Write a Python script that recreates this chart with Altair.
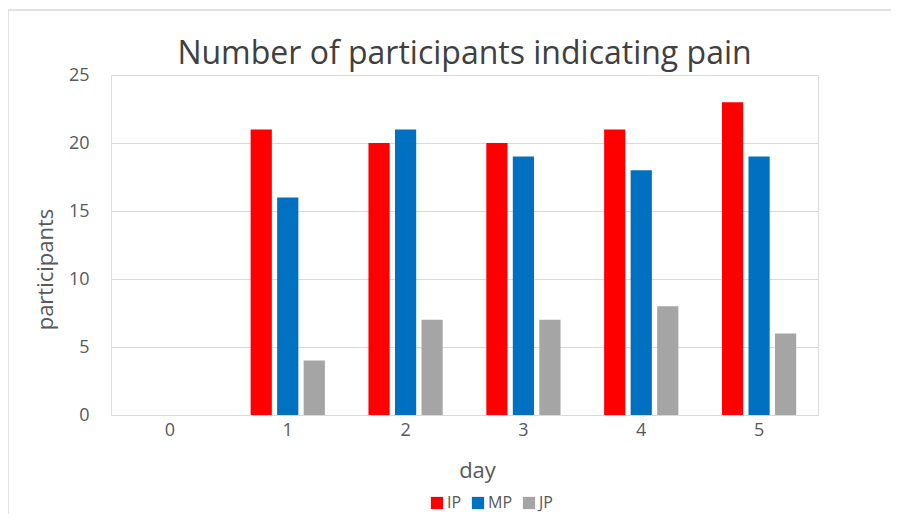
import altair as alt
import pandas as pd

days = ["0", "1", "2", "3", "4", "5"]
series = ["IP", "MP", "JP"]
ip = [0, 21, 20, 20, 21, 23]
mp = [0, 16, 21, 19, 18, 19]
jp = [0, 4, 7, 7, 8, 6]
colors = ["#FF0000", "#0070C0", "#A5A5A5"]

rows = []
for i, d in enumerate(days):
    for s, vals in zip(series, [ip, mp, jp]):
        rows.append({"day": d, "series": s, "participants": vals[i]})
df = pd.DataFrame(rows)

FONT = "Open Sans"
TXT = "#595959"
W, H = 707, 340

bars = alt.Chart(df).mark_bar().encode(
    x=alt.X("day:N", sort=days,
            scale=alt.Scale(paddingInner=0.37, paddingOuter=0.185),
            axis=alt.Axis(title="day", labelAngle=0, labelFontSize=18, labelColor=TXT,
                          labelFont=FONT, labelPadding=6, ticks=False, domainColor="#D9D9D9",
                          titleFont=FONT, titleFontSize=22, titleFontWeight="normal",
                          titleColor=TXT, titleX=366, titleY=45, titleAlign="center")),
    xOffset=alt.XOffset("series:N", sort=series,
                        scale=alt.Scale(paddingInner=0.2, paddingOuter=0)),
    y=alt.Y("participants:Q", scale=alt.Scale(domain=[0, 25]),
            axis=alt.Axis(title="participants", values=[0, 5, 10, 15, 20, 25], ticks=False,
                          domain=False, gridColor="#D9D9D9", labelFontSize=18,
                          labelColor=TXT, labelFont=FONT, labelPadding=22,
                          titleFont=FONT, titleFontSize=22, titleFontWeight="normal",
                          titleColor=TXT, titleX=-66, titleY=194, titleAngle=270,
                          titleAlign="center", titleBaseline="middle")),
    color=alt.Color("series:N", sort=series,
                    scale=alt.Scale(domain=series, range=colors),
                    legend=alt.Legend(title=None, orient="none", direction="horizontal",
                                      legendX=318, legendY=420, symbolType="square",
                                      symbolSize=150, symbolStrokeWidth=0,
                                      labelFont=FONT, labelFontSize=16, labelColor=TXT,
                                      columnPadding=8, labelOffset=2)),
)

one = pd.DataFrame({"a": [0]})
top_line = alt.Chart(one).mark_rule(color="#D9D9D9", strokeWidth=1.5).encode(
    x=alt.value(-103), x2=alt.value(W + 300), y=alt.value(-65)
)
left_line = alt.Chart(one).mark_rule(color="#D9D9D9", strokeWidth=1.5).encode(
    x=alt.value(-103), y=alt.value(-65), y2=alt.value(H + 200)
)

chart = alt.layer(top_line, left_line, bars).properties(
    width=W, height=H,
    title=alt.Title("Number of participants indicating pain", font=FONT, fontSize=32,
                    fontWeight="normal", color="#404040", offset=-62, anchor="middle",
                    frame="group"),
    padding={"left": 103, "top": 67, "right": 73, "bottom": 99},
    autosize=alt.AutoSizeParams(type="none"),
).configure_view(stroke=None).configure(background="white")

chart.save("out.html", embed_options={"renderer": "svg", "actions": False})
